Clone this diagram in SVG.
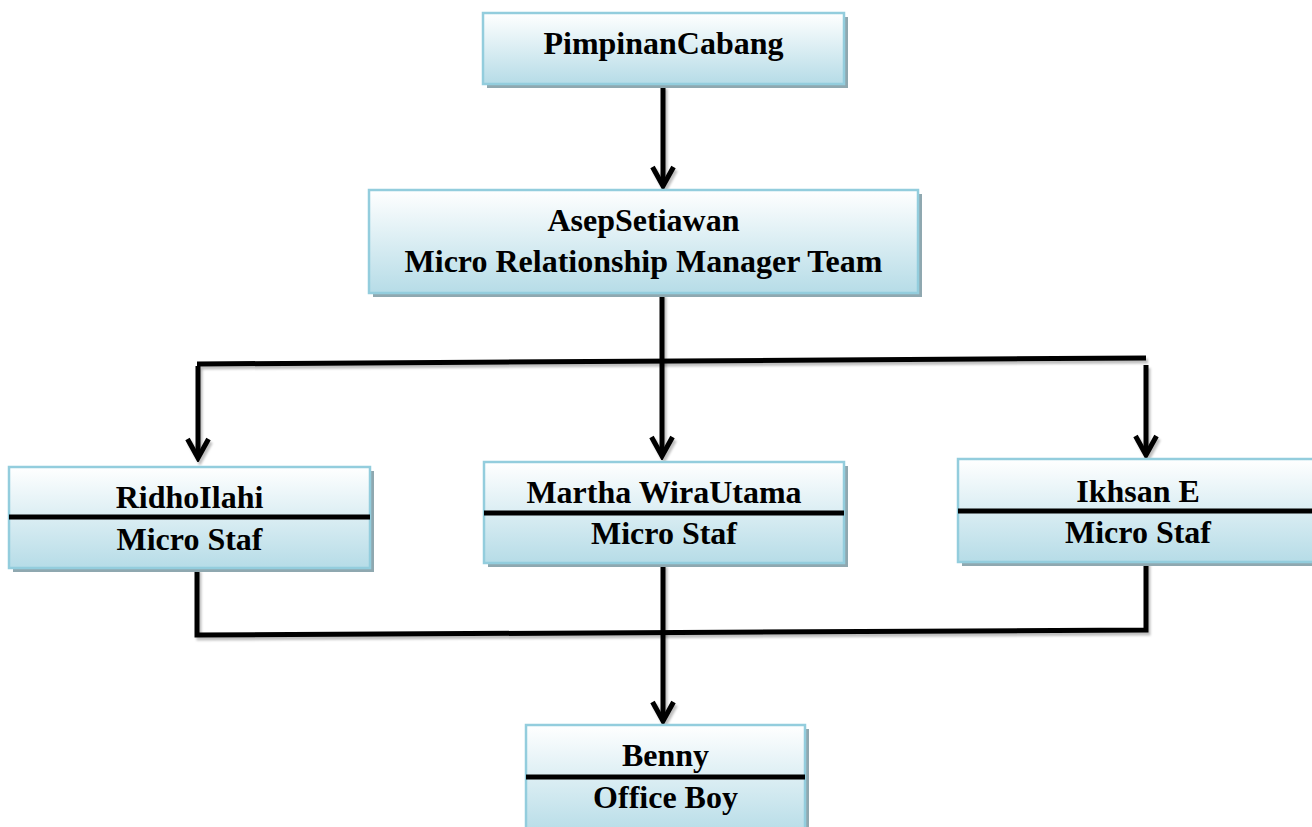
<svg xmlns="http://www.w3.org/2000/svg" width="1312" height="827" viewBox="0 0 1312 827">
<defs>
<linearGradient id="g" x1="0" y1="0" x2="0" y2="1">
<stop offset="0" stop-color="#ffffff"/>
<stop offset="1" stop-color="#b6dce7"/>
</linearGradient>
<filter id="ls" filterUnits="userSpaceOnUse" x="0" y="0" width="1312" height="827">
<feDropShadow dx="2" dy="3" stdDeviation="1.2" flood-color="#000" flood-opacity="0.25"/>
</filter>
<marker id="ah" markerUnits="userSpaceOnUse" viewBox="-26 -16 30 32" markerWidth="30" markerHeight="32" refX="0" refY="0" orient="auto">
<path d="M -19 -10.5 L 0 0 L -19 10.5" fill="none" stroke="#000" stroke-width="5" stroke-linejoin="miter"/>
</marker>
</defs>
<style>
.sh{fill:#8fa8b0}
.bx{fill:url(#g);stroke:#93cddd;stroke-width:2.5}
.dv{stroke:#000;stroke-width:5}
.t{font-family:"Liberation Serif","Times New Roman",serif;font-weight:bold;font-size:32px;fill:#000;text-anchor:middle}
.c{fill:none;stroke:#000;stroke-width:5;filter:url(#ls)}
.ar{marker-end:url(#ah)}
</style>
<rect width="1312" height="827" fill="#ffffff"/>

<g id="connectors">
<path class="c ar" d="M663 86 L663 186"/>
<path class="c ar" d="M662 294 L662 456"/>
<path class="c" d="M197 364 L1146 358"/>
<path class="c ar" d="M198 366 L198 458"/>
<path class="c ar" d="M1146 365 L1146 455"/>
<path class="c" d="M197 569 L197 635 L1146 630 L1146 562"/>
<path class="c ar" d="M663 564 L663 721"/>
</g>

<g id="pimpinan">
<rect class="sh" x="487" y="17" width="361" height="71"/>
<rect class="bx" x="483" y="13" width="361" height="71"/>
<text class="t" x="663.5" y="54">PimpinanCabang</text>
</g>

<g id="asep">
<rect class="sh" x="373" y="194" width="549" height="103"/>
<rect class="bx" x="369" y="190" width="549" height="103"/>
<text class="t" x="643.5" y="231">AsepSetiawan</text>
<text class="t" x="643.5" y="272">Micro Relationship Manager Team</text>
</g>

<g id="ridho">
<rect class="sh" x="13" y="471" width="361" height="101"/>
<rect class="bx" x="9" y="467" width="361" height="101"/>
<line class="dv" x1="9" y1="517" x2="370" y2="517"/>
<text class="t" x="189.5" y="508">RidhoIlahi</text>
<text class="t" x="189.5" y="550">Micro Staf</text>
</g>

<g id="martha">
<rect class="sh" x="488" y="466" width="360" height="101"/>
<rect class="bx" x="484" y="462" width="360" height="101"/>
<line class="dv" x1="484" y1="513" x2="844" y2="513"/>
<text class="t" x="664" y="503">Martha WiraUtama</text>
<text class="t" x="664" y="544">Micro Staf</text>
</g>

<g id="ikhsan">
<rect class="sh" x="962" y="463" width="360" height="103"/>
<rect class="bx" x="958" y="459" width="360" height="103"/>
<line class="dv" x1="958" y1="511" x2="1318" y2="511"/>
<text class="t" x="1138" y="502">Ikhsan E</text>
<text class="t" x="1138" y="543">Micro Staf</text>
</g>

<g id="benny">
<rect class="sh" x="530" y="729" width="279" height="110"/>
<rect class="bx" x="526" y="725" width="279" height="110"/>
<line class="dv" x1="526" y1="777" x2="805" y2="777"/>
<text class="t" x="665.5" y="766">Benny</text>
<text class="t" x="665.5" y="808">Office Boy</text>
</g>
</svg>
